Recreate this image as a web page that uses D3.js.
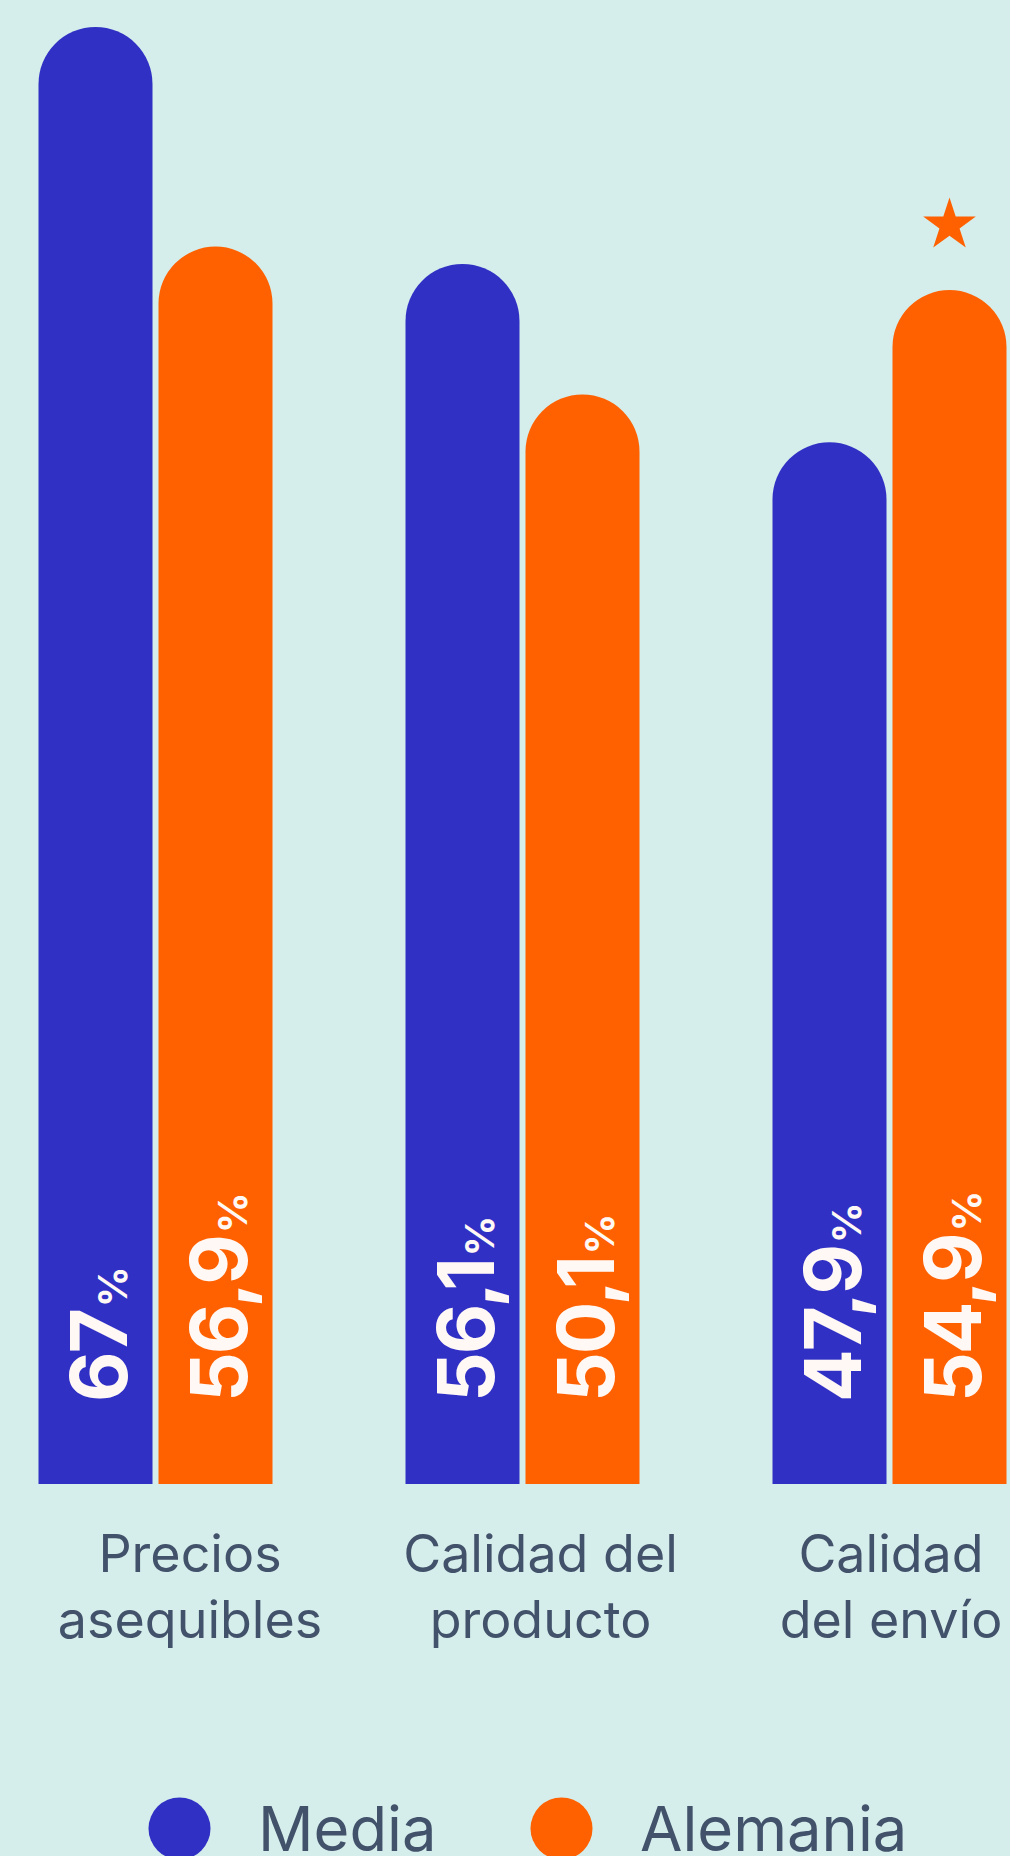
<!DOCTYPE html>
<html>
<head>
<meta charset="utf-8">
<script src="https://cdn.jsdelivr.net/npm/d3@7"></script>
<style>
  body { margin: 0; background: #d5eeeb; }
  svg { display: block; }
  text { font-family: Inter, "Noto Sans", sans-serif; }
</style>
</head>
<body>
<div id="chart"></div>
<script>
// chart data
var categories = ["Precios asequibles", "Calidad del producto", "Calidad del envío"];
var categoryLines = [["Precios", "asequibles"], ["Calidad del", "producto"], ["Calidad", "del envío"]];
var series = ["Media", "Alemania"];
var media = [67, 56.1, 47.9];
var alemania = [56.9, 50.1, 54.9];
var colors = ["#3130c4", "#ff6100"];

var width = 1010, height = 1856;
var baseY = 1484;

var svg = d3.select("#chart").append("svg")
  .attr("width", width)
  .attr("height", height);

svg.append("rect").attr("width", width).attr("height", height).attr("fill", "#d5eeeb");

var x0 = d3.scaleBand().domain(categories).range([38.5, 1006.5]).paddingInner(133 / 367);
var x1 = d3.scaleBand().domain(series).range([0, x0.bandwidth()]).paddingInner(0.05);
var xLabel = d3.scalePoint().domain(categories).range([190, 891]);
var y = d3.scaleLinear().domain([0, 67]).range([baseY, 27]);
var color = d3.scaleOrdinal().domain(series).range(colors);

var rows = [];
categories.forEach(function(c, i) {
  rows.push({cat: c, ser: "Media", value: media[i], i: i});
  rows.push({cat: c, ser: "Alemania", value: alemania[i], i: i});
});

function barPath(d) {
  var w = x1.bandwidth(), r = w / 2;
  var left = x0(d.cat) + x1(d.ser);
  var top = y(d.value);
  var p = d3.path();
  p.moveTo(left, baseY);
  p.lineTo(left, top + r);
  p.arc(left + r, top + r, r, Math.PI, 0);
  p.lineTo(left + w, baseY);
  p.closePath();
  return p.toString();
}

function fmt(v) { return String(v).replace(".", ","); }

var groups = svg.append("g").selectAll("g").data(rows).enter().append("g");

groups.append("path")
  .attr("d", barPath)
  .attr("fill", function(d) { return color(d.ser); });

// rotated value labels
groups.append("text")
  .attr("transform", function(d) {
    var cx = x0(d.cat) + x1(d.ser) + x1.bandwidth() / 2;
    return "translate(" + (cx + 31) + "," + (baseY - 82) + ") rotate(-90)";
  })
  .attr("fill", "#fff8f5")
  .attr("font-weight", 700)
  .attr("font-size", 78)
  .each(function(d) {
    var t = d3.select(this);
    t.append("tspan").attr("letter-spacing", -2).text(fmt(d.value));
    t.append("tspan").attr("font-size", 40).attr("dx", 3).text("%");
  });

// star where Alemania beats the average
var starRows = rows.filter(function(d) { return d.ser == "Alemania" && d.value > media[d.i]; });
svg.append("g").selectAll("path").data(starRows).enter().append("path")
  .attr("d", d3.symbol().type(d3.symbolStar).size(860))
  .attr("transform", function(d) {
    var cx = x0(d.cat) + x1(d.ser) + x1.bandwidth() / 2;
    return "translate(" + cx + "," + (y(d.value) - 65) + ")";
  })
  .attr("fill", colors[1]);

// category labels, one text per line
var labelRows = [];
categories.forEach(function(c, i) {
  categoryLines[i].forEach(function(l, j) { labelRows.push({cat: c, line: l, j: j}); });
});
svg.append("g").selectAll("text").data(labelRows).enter().append("text")
  .attr("text-anchor", "middle")
  .attr("font-size", 52)
  .attr("fill", "#42526b")
  .attr("x", function(d) { return xLabel(d.cat); })
  .attr("y", function(d) { return 1572 + d.j * 66; })
  .text(function(d) { return d.line; });

// legend
var legend = svg.append("g");
var lx = 179.5;
series.forEach(function(s) {
  var item = legend.append("g").attr("transform", "translate(" + lx + ",1828.5)");
  item.append("circle").attr("r", 31).attr("fill", color(s));
  var t = item.append("text").attr("x", 78.5).attr("y", 22).attr("font-size", 61.5).attr("fill", "#42526b").text(s);
  lx += 78.5 + t.node().getComputedTextLength() + 94 + 31;
});
</script>
</body>
</html>
